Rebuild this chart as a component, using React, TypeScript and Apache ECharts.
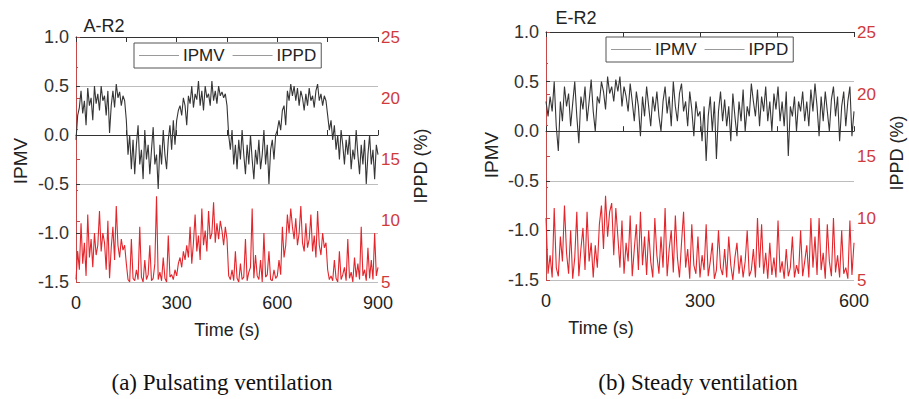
import React, { useEffect, useRef } from "react";
import * as echarts from "echarts";

// Panel (a) pulsating ventilation, one sample every 5 s, 0..900 s
const stepA = 5;
const ipmvA = [
  -0.05, 0.2, 0.28, 0.45, 0.22, 0.35, 0.1, 0.48, 0.3, 0.38, 0.15, 0.5, 0.32, 0.42, 0.25, 0.5, 0.35, 0.4, 0.2, 0.45, 0.02, 0.3, 0.45, 0.28, 0.52, 0.38, 0.44, 0.3, 0.4, 0.35,
  0.15, -0.2, 0.0, -0.35, -0.05, -0.4, -0.1, 0.1, -0.3, -0.15, -0.45, 0.05, -0.25, -0.1, -0.4, -0.15, 0.08, -0.3, -0.2, -0.55, -0.1, -0.3, 0.05, -0.2, -0.35, -0.05, 0.1, -0.15, 0.15, -0.1,
  0.15, 0.25, 0.3, 0.2, 0.38, 0.3, 0.1, 0.4, 0.32, 0.5, 0.28, 0.42, 0.36, 0.55, 0.3, 0.45, 0.25, 0.5, 0.38, 0.42, 0.3, 0.55, 0.35, 0.45, 0.32, 0.5, 0.4, 0.44, 0.38, 0.42,
  0.3, 0.0, -0.15, 0.05, -0.3, -0.1, -0.35, -0.05, -0.25, 0.05, -0.2, -0.4, -0.1, -0.3, 0.0, -0.25, -0.45, -0.15, -0.3, -0.05, -0.35, -0.2, 0.05, -0.3, -0.1, -0.5, -0.15, -0.05, -0.25, 0.0,
  0.05, 0.15, 0.05, 0.25, 0.3, 0.1, 0.45, 0.35, 0.52, 0.4, 0.5, 0.35, 0.48, 0.3, 0.45, 0.38, 0.25, 0.42, 0.3, 0.48, 0.35, 0.4, 0.28, 0.45, 0.52, 0.35, 0.42, 0.3, 0.4, 0.35,
  0.2, 0.05, 0.15, -0.05, 0.1, -0.15, 0.0, -0.25, 0.05, -0.1, -0.3, -0.05, -0.2, 0.0, -0.35, -0.15, -0.25, 0.05, -0.2, -0.4, -0.1, -0.3, -0.05, -0.5, -0.2, 0.0, -0.3, -0.15, -0.45, -0.1, -0.2,
];
const ippdA = [
  5.2, 7.5, 6.0, 9.8, 6.5, 8.2, 5.5, 10.5, 7.0, 8.5, 6.2, 9.0, 7.2, 8.0, 10.8, 7.5, 9.0, 8.2, 6.0, 10.0, 5.3, 7.8, 9.5, 6.8, 11.2, 8.0, 7.0, 8.5, 7.6, 8.0,
  6.5, 5.2, 5.0, 8.5, 5.3, 5.1, 6.0, 5.2, 9.5, 5.4, 5.0, 6.8, 5.2, 5.6, 8.0, 5.1, 5.3, 6.5, 12.0, 5.2, 5.8, 5.1, 7.0, 5.3, 5.0, 8.8, 5.4, 5.6, 5.2, 6.0,
  5.5, 6.5, 7.0, 6.2, 7.5, 6.8, 8.0, 7.0, 9.5, 6.5, 8.2, 10.5, 7.5, 8.8, 6.8, 11.0, 8.0, 9.2, 7.5, 10.8, 8.5, 9.0, 11.5, 8.2, 9.8, 8.5, 10.0, 9.2, 8.0, 9.5,
  8.5, 5.5, 5.2, 6.0, 5.1, 7.5, 5.3, 5.0, 6.5, 5.2, 5.4, 8.5, 5.1, 5.8, 6.2, 11.0, 5.3, 7.2, 5.5, 5.2, 6.8, 5.0, 9.0, 5.4, 5.6, 7.5, 5.2, 5.1, 6.0, 5.3,
  5.5, 6.8, 5.6, 9.5, 7.0, 8.0, 10.5, 9.0, 11.0, 9.5, 8.5, 10.2, 8.0, 9.0, 11.2, 8.2, 7.5, 9.8, 7.8, 8.5, 10.5, 7.5, 8.8, 7.0, 10.8, 8.0, 7.2, 9.0, 7.8, 8.2,
  6.0, 5.2, 5.5, 5.1, 6.8, 5.3, 5.0, 7.5, 5.2, 5.6, 6.2, 5.1, 8.5, 5.3, 5.8, 5.0, 7.0, 5.4, 6.5, 5.2, 9.5, 5.5, 6.0, 5.1, 7.8, 5.3, 6.8, 5.2, 9.0, 5.5, 6.2,
];

// Panel (b) steady ventilation, one sample every 4 s, 0..600 s
const stepB = 4;
const ipmvB = [
  0.3, 0.15, 0.35, 0.2, 0.5, 0.05, -0.2, 0.3, 0.1, 0.45, 0.25, 0.38, 0.05, 0.28, 0.5, 0.15, -0.12, 0.35, 0.22, 0.45, 0.1, 0.3, 0.52, 0.2, 0.0,
  0.35, 0.28, 0.5, 0.4, 0.22, 0.55, 0.38, 0.45, 0.3, 0.52, 0.4, 0.55, 0.25, 0.45, 0.35, 0.2, 0.48, 0.3, 0.1, 0.4, 0.25, -0.05, 0.35, 0.15, 0.45,
  0.25, 0.05, 0.35, 0.2, 0.4, 0.15, 0.0, 0.3, 0.45, 0.18, 0.35, 0.05, 0.5, 0.25, 0.1, 0.38, 0.48, 0.2, 0.3, 0.05, 0.4, 0.22, -0.05, 0.3, 0.15,
  0.2, -0.1, 0.25, -0.3, 0.15, 0.35, 0.0, 0.3, -0.28, 0.2, 0.4, 0.1, 0.32, 0.05, 0.25, -0.1, 0.38, 0.15, -0.05, 0.3, 0.1, 0.42, 0.0, 0.25, 0.15,
  0.48, 0.3, 0.15, 0.42, 0.05, 0.35, 0.2, 0.45, 0.1, 0.3, 0.0, 0.38, 0.22, 0.45, 0.1, 0.3, 0.05, 0.4, -0.25, 0.25, 0.15, 0.35, 0.0, 0.3, 0.2,
  0.4, 0.1, 0.3, 0.05, 0.42, 0.2, 0.48, 0.25, -0.05, 0.35, 0.1, 0.4, 0.2, 0.0, 0.32, 0.45, 0.15, 0.35, -0.1, 0.25, 0.4, 0.05, 0.3, 0.45, -0.05, 0.2,
];
const ippdB = [
  10.0, 5.5, 7.0, 5.2, 10.8, 6.0, 5.3, 8.5, 6.5, 11.0, 7.2, 5.5, 9.0, 5.1, 6.8, 10.5, 5.3, 7.5, 9.2, 5.8, 10.5, 6.5, 8.0, 5.2, 7.8,
  6.0, 9.5, 11.0, 7.5, 11.8, 8.5, 10.5, 11.2, 7.0, 10.8, 8.5, 6.0, 9.8, 5.5, 8.0, 6.5, 10.2, 5.3, 7.5, 9.5, 5.8, 10.5, 6.2, 8.5, 5.4,
  9.0, 6.5, 5.2, 10.0, 7.0, 5.5, 8.5, 6.0, 10.8, 5.3, 7.5, 9.0, 5.6, 10.2, 6.8, 5.2, 8.0, 10.5, 6.0, 7.5, 5.1, 9.5, 6.2, 5.5, 8.5,
  5.2, 7.0, 5.8, 9.5, 5.3, 6.5, 8.0, 5.1, 5.8, 9.0, 6.0, 5.4, 7.5, 5.2, 8.5, 6.2, 5.0, 6.8, 8.0, 5.5, 7.0, 5.2, 6.5, 9.0, 5.3,
  5.8, 7.5, 5.2, 10.0, 6.0, 9.5, 5.5, 7.2, 5.1, 8.0, 5.4, 6.8, 5.2, 9.8, 5.6, 6.5, 5.1, 7.5, 5.3, 6.0, 8.5, 5.2, 6.2, 5.5, 9.0,
  5.3, 6.5, 7.8, 5.2, 10.0, 6.0, 8.5, 5.4, 10.0, 5.8, 7.2, 5.1, 9.5, 6.5, 5.3, 10.0, 5.6, 7.0, 5.2, 9.0, 5.5, 6.0, 5.1, 9.8, 5.4, 8.0,
];

const panelTitles = ["A-R2", "E-R2"];
const captions = ["(a) Pulsating ventilation", "(b) Steady ventilation"];
const xMax = [900, 600];
const xTicks = [300, 300];
const leftTicks = { min: -1.5, max: 1.0, interval: 0.5 };
const rightTicks = { min: 5, max: 25, interval: 5 };

const SANS = "Liberation Sans, Arial, sans-serif";
const SERIF = "Liberation Serif, Times New Roman, serif";
const PMV_COLOR = "#363636";
const PPD_COLOR = "#e3262c";
const RED_TEXT = "#cf3a3c";

function pairs(vals: number[], step: number) {
  return vals.map((v, i) => [i * step, v]);
}

export default function App() {
  const ref = useRef<HTMLDivElement>(null);
  useEffect(() => {
    if (!ref.current) return;
    const chart = echarts.init(ref.current, null, { renderer: "svg" });
    const grids = [
      { left: 76, top: 37, width: 302, height: 245 },
      { left: 546, top: 32, width: 308, height: 248 },
    ];
    const xAxes: any[] = [];
    const yAxes: any[] = [];
    grids.forEach((g, i) => {
      const base = {
        type: "value",
        gridIndex: i,
        min: 0,
        max: xMax[i],
        interval: xTicks[i],
        axisLine: { show: true, lineStyle: { color: "#333", width: 1 } },
        axisTick: { show: true, inside: true, length: 5, lineStyle: { color: "#333" } },
        minorTick: { show: true, splitNumber: 2, length: 5, lineStyle: { color: "#333" } },
        splitLine: { show: false },
      };
      xAxes.push({
        ...base,
        position: "bottom",
        axisLabel: { fontSize: 18, color: "#222", fontFamily: SANS, margin: 12 },
      });
      xAxes.push({
        ...base,
        position: "top",
        axisLabel: { show: false },
      });
      yAxes.push({
        type: "value",
        gridIndex: i,
        position: "left",
        min: leftTicks.min,
        max: leftTicks.max,
        interval: leftTicks.interval,
        axisLine: { show: true, lineStyle: { color: "#333", width: 1 } },
        axisTick: { show: true, inside: true, length: 4, lineStyle: { color: "#333" } },
        axisLabel: {
          fontSize: 18,
          color: "#333",
          fontFamily: SANS,
          margin: 7,
          formatter: (v: number) => v.toFixed(1),
        },
        splitLine: { show: true, lineStyle: { color: "#bdbdbd", width: 1 } },
      });
      yAxes.push({
        type: "value",
        gridIndex: i,
        position: "right",
        min: rightTicks.min,
        max: rightTicks.max,
        interval: rightTicks.interval,
        axisLine: { show: true, lineStyle: { color: "#c44a4a", width: 1 } },
        axisTick: { show: true, inside: false, length: 4, lineStyle: { color: "#c44a4a" } },
        minorTick: { show: true, splitNumber: 2, length: 2, lineStyle: { color: "#c44a4a" } },
        axisLabel: { fontSize: 17, color: RED_TEXT, fontFamily: SANS, margin: 3, lineHeight: 17 },
        splitLine: { show: false },
      });
    });

    const series: any[] = [
      { name: "IPMV", data: pairs(ipmvA, stepA), xAxisIndex: 0, yAxisIndex: 0, color: PMV_COLOR },
      { name: "IPPD", data: pairs(ippdA, stepA), xAxisIndex: 0, yAxisIndex: 1, color: PPD_COLOR },
      { name: "IPMV", data: pairs(ipmvB, stepB), xAxisIndex: 2, yAxisIndex: 2, color: PMV_COLOR },
      { name: "IPPD", data: pairs(ippdB, stepB), xAxisIndex: 2, yAxisIndex: 3, color: PPD_COLOR },
    ].map((s) => ({
      type: "line",
      name: s.name,
      data: s.data,
      xAxisIndex: s.xAxisIndex,
      yAxisIndex: s.yAxisIndex,
      showSymbol: false,
      symbol: "none",
      lineStyle: { color: s.color, width: 1.1 },
      itemStyle: { color: s.color },
      z: 3,
    }));

    const legendCommon = {
      orient: "horizontal",
      itemWidth: 40,
      itemHeight: 1,
      itemGap: 8,
      padding: [4, 5, 4, 5],
      borderColor: "#555",
      borderWidth: 1,
      textStyle: { fontSize: 17, color: "#222", fontFamily: SANS, padding: [0, 0, 0, -1] },
      data: [
        { name: "IPMV", icon: "rect", itemStyle: { color: "#9a9a9a" } },
        { name: "IPPD", icon: "rect", itemStyle: { color: "#9a9a9a" } },
      ],
      selectedMode: false,
    };

    const textEl = (text: string, x: number, y: number, size: number, opts: any = {}) => ({
      type: "text",
      x,
      y,
      rotation: opts.rotation || 0,
      style: {
        text,
        fontSize: size,
        fontFamily: opts.font || SANS,
        fill: opts.color || "#222",
        textAlign: "center",
        textVerticalAlign: "middle",
      },
    });

    chart.setOption({
      animation: false,
      backgroundColor: "#fff",
      grid: grids.map((g) => ({ ...g, containLabel: false })),
      xAxis: xAxes,
      yAxis: yAxes,
      legend: [
        { ...legendCommon, left: 134, top: 43 },
        { ...legendCommon, left: 606, top: 37 },
      ],
      series,
      graphic: [
        textEl(panelTitles[0], 104, 26, 18),
        textEl(panelTitles[1], 576, 18, 18),
        textEl("IPMV", 20, 161, 19, { rotation: Math.PI / 2 }),
        textEl("IPPD (%)", 421, 166, 18, { rotation: Math.PI / 2 }),
        textEl("IPMV", 491, 155, 19, { rotation: Math.PI / 2 }),
        textEl("IPPD (%)", 897, 153, 18, { rotation: Math.PI / 2 }),
        textEl("Time (s)", 227, 330, 18),
        textEl("Time (s)", 601, 328, 18),
        textEl(captions[0], 222, 382, 23, { font: SERIF, color: "#111" }),
        textEl(captions[1], 698, 382, 23, { font: SERIF, color: "#111" }),
      ],
    });
    return () => chart.dispose();
  }, []);
  return (
    <div
      ref={ref}
      style={{ position: "absolute", left: 0, top: 0, width: 909, height: 399, background: "#fff" }}
    />
  );
}
